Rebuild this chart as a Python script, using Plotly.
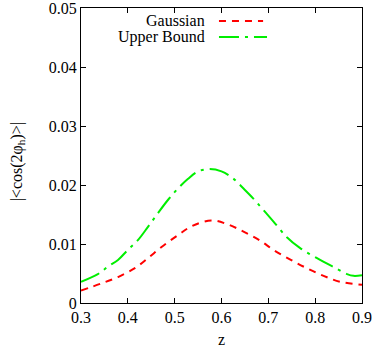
import plotly.graph_objects as go

z_upper = [0.300, 0.336, 0.358, 0.379, 0.400, 0.422, 0.443, 0.464, 0.486, 0.507, 0.528,
           0.550, 0.575, 0.600, 0.625, 0.647, 0.668, 0.689, 0.711, 0.739, 0.768, 0.804,
           0.839, 0.868, 0.882, 0.900]
upper = [0.0036, 0.0049, 0.0062, 0.0073, 0.0090, 0.0107, 0.0129, 0.0152, 0.0175, 0.0194, 0.0210,
         0.0223, 0.0227, 0.0223, 0.0211, 0.0194, 0.0177, 0.0158, 0.0138, 0.0112, 0.0093, 0.0076,
         0.0061, 0.0049, 0.0046, 0.0047]

z_gauss = [0.300, 0.343, 0.379, 0.415, 0.443, 0.472, 0.507, 0.536, 0.578, 0.611, 0.647,
           0.682, 0.711, 0.746, 0.782, 0.818, 0.853, 0.900]
gauss = [0.0021, 0.0033, 0.0044, 0.0059, 0.0076, 0.0095, 0.0115, 0.0130, 0.0140, 0.0134, 0.0121,
         0.0106, 0.0090, 0.0074, 0.0059, 0.0046, 0.0036, 0.0031]

x_ticks = [0.3, 0.4, 0.5, 0.6, 0.7, 0.8, 0.9]
y_ticks = [0, 0.01, 0.02, 0.03, 0.04, 0.05]
y_labels = ["0", "0.01", "0.02", "0.03", "0.04", "0.05"]

FONT = "Liberation Serif, Times New Roman, DejaVu Serif, serif"
FS = 16
RED_DASH = "7px,6px"
GREEN_DASH = "20px,6px,3px,6px"

fig = go.Figure()
fig.add_trace(go.Scatter(x=z_gauss, y=gauss, mode="lines", name="Gaussian",
                         line=dict(color="#ff0000", width=2, dash=RED_DASH, shape="spline")))
fig.add_trace(go.Scatter(x=z_upper, y=upper, mode="lines", name="Upper Bound",
                         line=dict(color="#00ee00", width=2, dash=GREEN_DASH, shape="spline")))

axis_common = dict(showgrid=False, zeroline=False, showline=True, linecolor="black", linewidth=1,
                   mirror="ticks", ticks="inside", ticklen=5, tickcolor="black",
                   ticklabeloverflow="allow", automargin=False,
                   tickfont=dict(family=FONT, size=FS, color="black"))

fig.update_xaxes(range=[0.3, 0.9], tickvals=x_ticks, ticktext=[str(v) for v in x_ticks],
                 **axis_common)
fig.update_yaxes(range=[0, 0.05], tickvals=y_ticks, ticktext=y_labels, **axis_common)

# axis titles
fig.add_annotation(x=0.5, y=-0.125, xref="paper", yref="paper", text="z", showarrow=False,
                   xanchor="center", yanchor="middle",
                   font=dict(family=FONT, size=FS, color="black"))
fig.add_annotation(x=-0.228, y=0.48, xref="paper", yref="paper",
                   text="|&lt;cos(2φ<sub>h</sub>)&gt;|", showarrow=False, textangle=-90,
                   xanchor="center", yanchor="middle",
                   font=dict(family=FONT, size=FS, color="black"))

# gnuplot-style key: text right-aligned, sample to the right
legend_rows = [("Gaussian", "#ff0000", RED_DASH, 0.956, 0.648),
               ("Upper Bound", "#00ee00", GREEN_DASH, 0.902, 0.662)]
for label, color, dash, yp, xend in legend_rows:
    fig.add_annotation(x=0.448, y=yp, xref="paper", yref="paper", text=label, showarrow=False,
                       xanchor="right", yanchor="middle",
                       font=dict(family=FONT, size=FS, color="black"))
    fig.add_shape(type="line", xref="paper", yref="paper", x0=0.491, x1=xend, y0=yp, y1=yp,
                  line=dict(color=color, width=2, dash=dash))

fig.update_layout(width=382, height=354, margin=dict(l=81, r=20, t=8, b=51, autoexpand=False),
                  paper_bgcolor="white", plot_bgcolor="white", showlegend=False,
                  font=dict(family=FONT, size=FS, color="black"))

fig.write_html("out.html", config={"displayModeBar": False},
               post_script="document.body.style.margin='0';")
